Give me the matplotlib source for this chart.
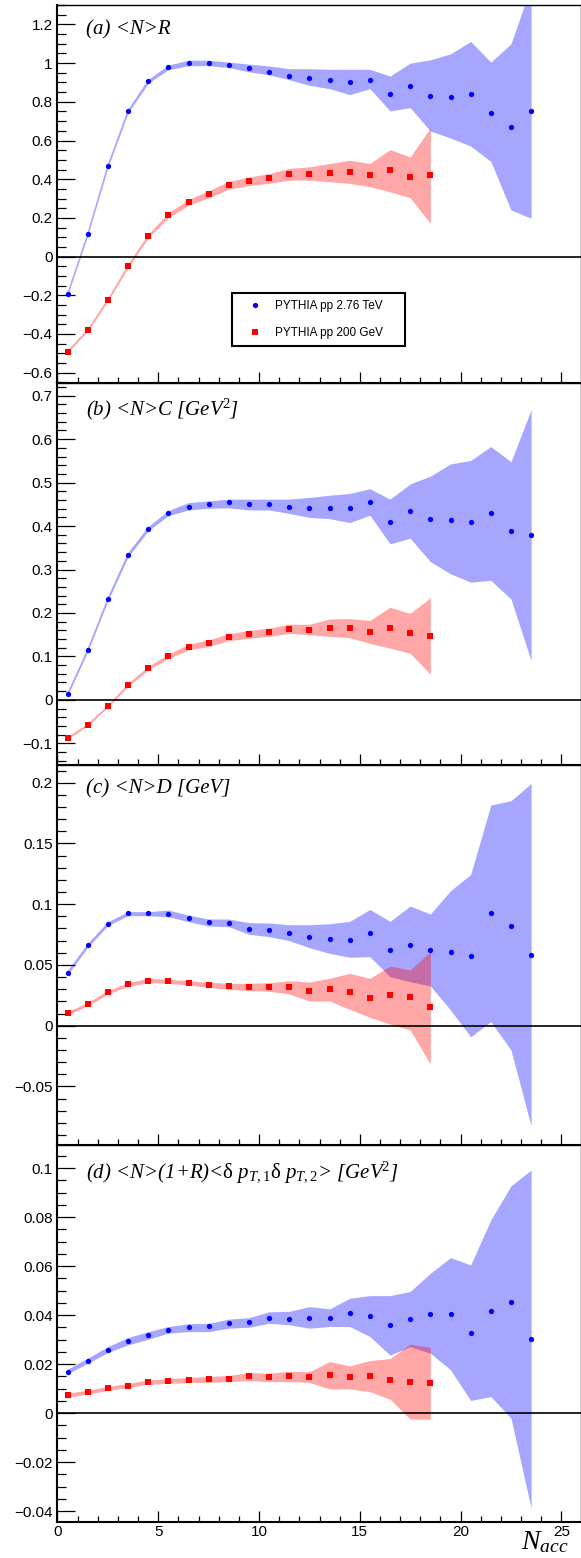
import matplotlib.pyplot as plt
from matplotlib.ticker import MultipleLocator, FuncFormatter

plt.rcParams['font.family'] = ['Liberation Sans', 'DejaVu Sans']
plt.rcParams['mathtext.fontset'] = 'custom'
plt.rcParams['mathtext.rm'] = 'Liberation Serif'
plt.rcParams['mathtext.it'] = 'Liberation Serif:italic'
plt.rcParams['mathtext.bf'] = 'Liberation Serif:bold'

# N_acc bins for the two energies
n_acc_276 = [0.5, 1.5, 2.5, 3.5, 4.5, 5.5, 6.5, 7.5, 8.5, 9.5, 10.5, 11.5,
             12.5, 13.5, 14.5, 15.5, 16.5, 17.5, 18.5, 19.5, 20.5, 21.5, 22.5, 23.5]
n_acc_200 = [0.5, 1.5, 2.5, 3.5, 4.5, 5.5, 6.5, 7.5, 8.5, 9.5, 10.5, 11.5,
             12.5, 13.5, 14.5, 15.5, 16.5, 17.5, 18.5]

# (a) <N>R
R_276 = [-0.196, 0.115, 0.467, 0.751, 0.906, 0.978, 1.002, 1.002, 0.992, 0.973, 0.956, 0.935,
         0.921, 0.914, 0.902, 0.912, 0.840, 0.883, 0.832, 0.827, 0.840, 0.744, 0.672, 0.755]
R_276_lo = [-0.200, 0.110, 0.461, 0.743, 0.896, 0.966, 0.987, 0.987, 0.977, 0.955, 0.940, 0.914,
            0.885, 0.868, 0.837, 0.868, 0.753, 0.770, 0.649, 0.613, 0.571, 0.492, 0.241, 0.198]
R_276_hi = [-0.192, 0.120, 0.473, 0.759, 0.916, 0.990, 1.015, 1.015, 1.005, 0.995, 0.985, 0.971,
            0.971, 0.968, 0.968, 0.968, 0.933, 1.000, 1.017, 1.048, 1.112, 1.005, 1.100, 1.400]
R_200 = [-0.491, -0.380, -0.225, -0.050, 0.105, 0.213, 0.280, 0.322, 0.368, 0.389, 0.404, 0.425,
         0.425, 0.430, 0.435, 0.420, 0.445, 0.409, 0.420]
R_200_lo = [-0.496, -0.385, -0.231, -0.057, 0.096, 0.201, 0.265, 0.304, 0.348, 0.367, 0.379, 0.395,
            0.395, 0.387, 0.378, 0.361, 0.335, 0.304, 0.172]
R_200_hi = [-0.486, -0.375, -0.219, -0.043, 0.114, 0.225, 0.295, 0.340, 0.388, 0.411, 0.429, 0.456,
            0.464, 0.481, 0.498, 0.481, 0.553, 0.515, 0.665]

# (b) <N>C
C_276 = [0.013, 0.114, 0.232, 0.334, 0.394, 0.430, 0.445, 0.450, 0.455, 0.451, 0.451, 0.445,
         0.442, 0.442, 0.442, 0.455, 0.410, 0.435, 0.416, 0.415, 0.410, 0.429, 0.389, 0.380]
C_276_lo = [0.010, 0.111, 0.228, 0.329, 0.389, 0.424, 0.437, 0.441, 0.442, 0.437, 0.437, 0.429,
            0.420, 0.417, 0.408, 0.425, 0.359, 0.372, 0.318, 0.290, 0.271, 0.275, 0.232, 0.090]
C_276_hi = [0.016, 0.117, 0.236, 0.339, 0.399, 0.436, 0.454, 0.458, 0.462, 0.462, 0.462, 0.462,
            0.466, 0.471, 0.475, 0.486, 0.462, 0.497, 0.515, 0.543, 0.551, 0.583, 0.548, 0.668]
C_200 = [-0.088, -0.058, -0.015, 0.034, 0.073, 0.100, 0.121, 0.130, 0.144, 0.151, 0.156, 0.163,
         0.160, 0.165, 0.165, 0.156, 0.165, 0.153, 0.146]
C_200_lo = [-0.090, -0.060, -0.017, 0.031, 0.069, 0.095, 0.115, 0.123, 0.136, 0.142, 0.146, 0.153,
            0.150, 0.146, 0.143, 0.130, 0.119, 0.107, 0.059]
C_200_hi = [-0.086, -0.056, -0.013, 0.037, 0.077, 0.105, 0.128, 0.138, 0.152, 0.160, 0.165, 0.174,
            0.174, 0.186, 0.187, 0.183, 0.213, 0.199, 0.235]

# (c) <N>D
D_276 = [0.0436, 0.0661, 0.0840, 0.0925, 0.0925, 0.0922, 0.0886, 0.0850, 0.0842, 0.0796, 0.0785, 0.0760,
         0.0733, 0.0716, 0.0708, 0.0763, 0.0626, 0.0661, 0.0623, 0.0609, 0.0573, 0.0925, 0.0823, 0.0582]
D_276_lo = [0.0420, 0.0645, 0.0825, 0.0905, 0.0905, 0.0897, 0.0856, 0.0820, 0.0815, 0.0752, 0.0733, 0.0700,
            0.0642, 0.0595, 0.0563, 0.0568, 0.0403, 0.0362, 0.0327, 0.0129, -0.0091, 0.0033, -0.0200, -0.0826]
D_276_hi = [0.0452, 0.0677, 0.0855, 0.0938, 0.0938, 0.0952, 0.0910, 0.0878, 0.0878, 0.0848, 0.0845, 0.0831,
            0.0831, 0.0839, 0.0859, 0.0957, 0.0859, 0.0985, 0.0919, 0.1111, 0.1245, 0.1816, 0.1852, 0.1994]
D_200 = [0.0102, 0.0176, 0.0274, 0.0340, 0.0370, 0.0365, 0.0348, 0.0332, 0.0324, 0.0316, 0.0316, 0.0316,
         0.0283, 0.0299, 0.0274, 0.0225, 0.0250, 0.0233, 0.0151]
D_200_lo = [0.0090, 0.0163, 0.0260, 0.0325, 0.0354, 0.0348, 0.0335, 0.0315, 0.0299, 0.0288, 0.0283, 0.0261,
            0.0203, 0.0203, 0.0134, 0.0069, 0.0014, -0.0036, -0.0316]
D_200_hi = [0.0114, 0.0189, 0.0288, 0.0355, 0.0390, 0.0381, 0.0370, 0.0357, 0.0349, 0.0349, 0.0354, 0.0370,
            0.0359, 0.0390, 0.0431, 0.0390, 0.0491, 0.0458, 0.0609]

# (d) <N>(1+R)<dpT1 dpT2>
P_276 = [0.0169, 0.0215, 0.0260, 0.0293, 0.0318, 0.0340, 0.0351, 0.0355, 0.0367, 0.0371, 0.0389, 0.0385,
         0.0390, 0.0389, 0.0410, 0.0397, 0.0359, 0.0384, 0.0405, 0.0405, 0.0327, 0.0419, 0.0453, 0.0303]
P_276_lo = [0.0161, 0.0204, 0.0248, 0.0279, 0.0302, 0.0327, 0.0333, 0.0333, 0.0347, 0.0351, 0.0367, 0.0361,
            0.0347, 0.0354, 0.0354, 0.0313, 0.0237, 0.0272, 0.0245, 0.0177, 0.0052, 0.0068, -0.0020, -0.0388]
P_276_hi = [0.0180, 0.0225, 0.0272, 0.0309, 0.0333, 0.0354, 0.0365, 0.0367, 0.0384, 0.0390, 0.0414, 0.0416,
            0.0435, 0.0426, 0.0469, 0.0480, 0.0480, 0.0497, 0.0571, 0.0635, 0.0605, 0.0789, 0.0928, 0.0993]
P_200 = [0.0073, 0.0086, 0.0101, 0.0113, 0.0127, 0.0131, 0.0135, 0.0139, 0.0141, 0.0151, 0.0146, 0.0150,
         0.0146, 0.0154, 0.0146, 0.0150, 0.0137, 0.0127, 0.0122]
P_200_lo = [0.0065, 0.0078, 0.0093, 0.0105, 0.0118, 0.0122, 0.0125, 0.0126, 0.0129, 0.0133, 0.0129, 0.0129,
            0.0126, 0.0099, 0.0099, 0.0088, 0.0057, -0.0024, -0.0024]
P_200_hi = [0.0082, 0.0094, 0.0109, 0.0122, 0.0136, 0.0141, 0.0146, 0.0150, 0.0154, 0.0166, 0.0163, 0.0171,
            0.0169, 0.0211, 0.0193, 0.0215, 0.0223, 0.0282, 0.0268]

titles = [r'(a) <N>R',
          r'(b) <N>C [GeV$^{2}$]',
          r'(c) <N>D [GeV]',
          r'(d) <N>(1+R)<$\mathrm{\delta}$ $p_{T,1}$$\mathrm{\delta}$ $p_{T,2}$> [GeV$^{2}$]']
series = [(R_276, R_276_lo, R_276_hi, R_200, R_200_lo, R_200_hi),
          (C_276, C_276_lo, C_276_hi, C_200, C_200_lo, C_200_hi),
          (D_276, D_276_lo, D_276_hi, D_200, D_200_lo, D_200_hi),
          (P_276, P_276_lo, P_276_hi, P_200, P_200_lo, P_200_hi)]
ylims = [(-0.652, 1.302), (-0.15, 0.73), (-0.098, 0.2146), (-0.0442, 0.1096)]
majors = [0.2, 0.1, 0.05, 0.02]
minors = [0.05, 0.02, 0.01, 0.005]
title_y = [0.921, 0.914, 0.924, 0.913]

W, H = 581, 1558
# panel top/bottom edges in pixels
edges = [(4.7, 382.7), (382.7, 765.0), (765.0, 1144.7), (1144.7, 1521.5)]
left, right = 57.5, 580.5

blue_band = '#a6a6ff'
red_band = '#ffa6a6'


def fmt(v, pos):
    if abs(v) < 1e-9:
        return '0'
    return f"{round(v, 6):g}".replace('-', '\u2212')


fig = plt.figure(figsize=(W / 100, H / 100), dpi=100)

for i in range(4):
    t, b = edges[i]
    ax = fig.add_axes([left / W, 1 - b / H, (right - left) / W, (b - t) / H])
    y1, lo1, hi1, y2, lo2, hi2 = series[i]

    ax.fill_between(n_acc_276, lo1, hi1, color='blue', alpha=0.35, lw=0, zorder=1)
    ax.plot(n_acc_276, y1, color=blue_band, lw=1, zorder=1)
    ax.fill_between(n_acc_200, lo2, hi2, color='red', alpha=0.35, lw=0, zorder=2)
    ax.plot(n_acc_200, y2, color=red_band, lw=1, zorder=2)
    ax.axhline(0, color='black', lw=1.2, zorder=3)
    h1, = ax.plot(n_acc_276, y1, 'o', color='blue', ms=3.8, mew=0, zorder=4,
                  label='PYTHIA pp 2.76 TeV')
    h2, = ax.plot(n_acc_200, y2, 's', color='red', ms=4.4, mew=0, zorder=4,
                  label='PYTHIA pp 200 GeV')

    ax.set_xlim(0, 25.95)
    ax.set_ylim(*ylims[i])
    ax.xaxis.set_major_locator(MultipleLocator(5))
    ax.xaxis.set_minor_locator(MultipleLocator(1))
    ax.yaxis.set_major_locator(MultipleLocator(majors[i]))
    ax.yaxis.set_minor_locator(MultipleLocator(minors[i]))
    ax.yaxis.set_major_formatter(FuncFormatter(fmt))
    ax.xaxis.set_major_formatter(FuncFormatter(fmt))
    ax.tick_params(axis='y', which='both', direction='in', left=True, right=False,
                   labelsize=11, pad=3.5, width=0.9)
    ax.tick_params(axis='y', which='major', length=12.6)
    ax.tick_params(axis='y', which='minor', length=6.3)
    ax.tick_params(axis='x', which='both', direction='in', bottom=True, top=False,
                   labelsize=11, pad=2.5, width=0.9, labelbottom=(i == 3))
    ax.tick_params(axis='x', which='major', length=8)
    ax.tick_params(axis='x', which='minor', length=4)
    for side in ['top', 'right']:
        ax.spines[side].set_linewidth(1.0)
    for side in ['left', 'bottom']:
        ax.spines[side].set_linewidth(1.5)

    ax.text(0.0545, title_y[i], titles[i], transform=ax.transAxes, ha='left', va='baseline',
            fontsize=15, family='Liberation Serif', style='italic')

    if i == 0:
        leg = ax.legend(handles=[h1, h2], loc='lower left',
                        bbox_to_anchor=(0.334, 0.096, 0.330, 0.152), mode='expand',
                        borderaxespad=0, fontsize=8.5, numpoints=1, fancybox=False,
                        framealpha=1, edgecolor='black', borderpad=0.64,
                        labelspacing=1.22, handlelength=2.58, handletextpad=0.42)
        leg.get_frame().set_linewidth(1.5)

# axis title sits in the bottom-right corner, partly under the last tick label
fig.text(568 / W, 2.5 / H, r'$N_{acc}$', ha='right', va='bottom', fontsize=20)

fig.savefig('out.png', dpi=100)
